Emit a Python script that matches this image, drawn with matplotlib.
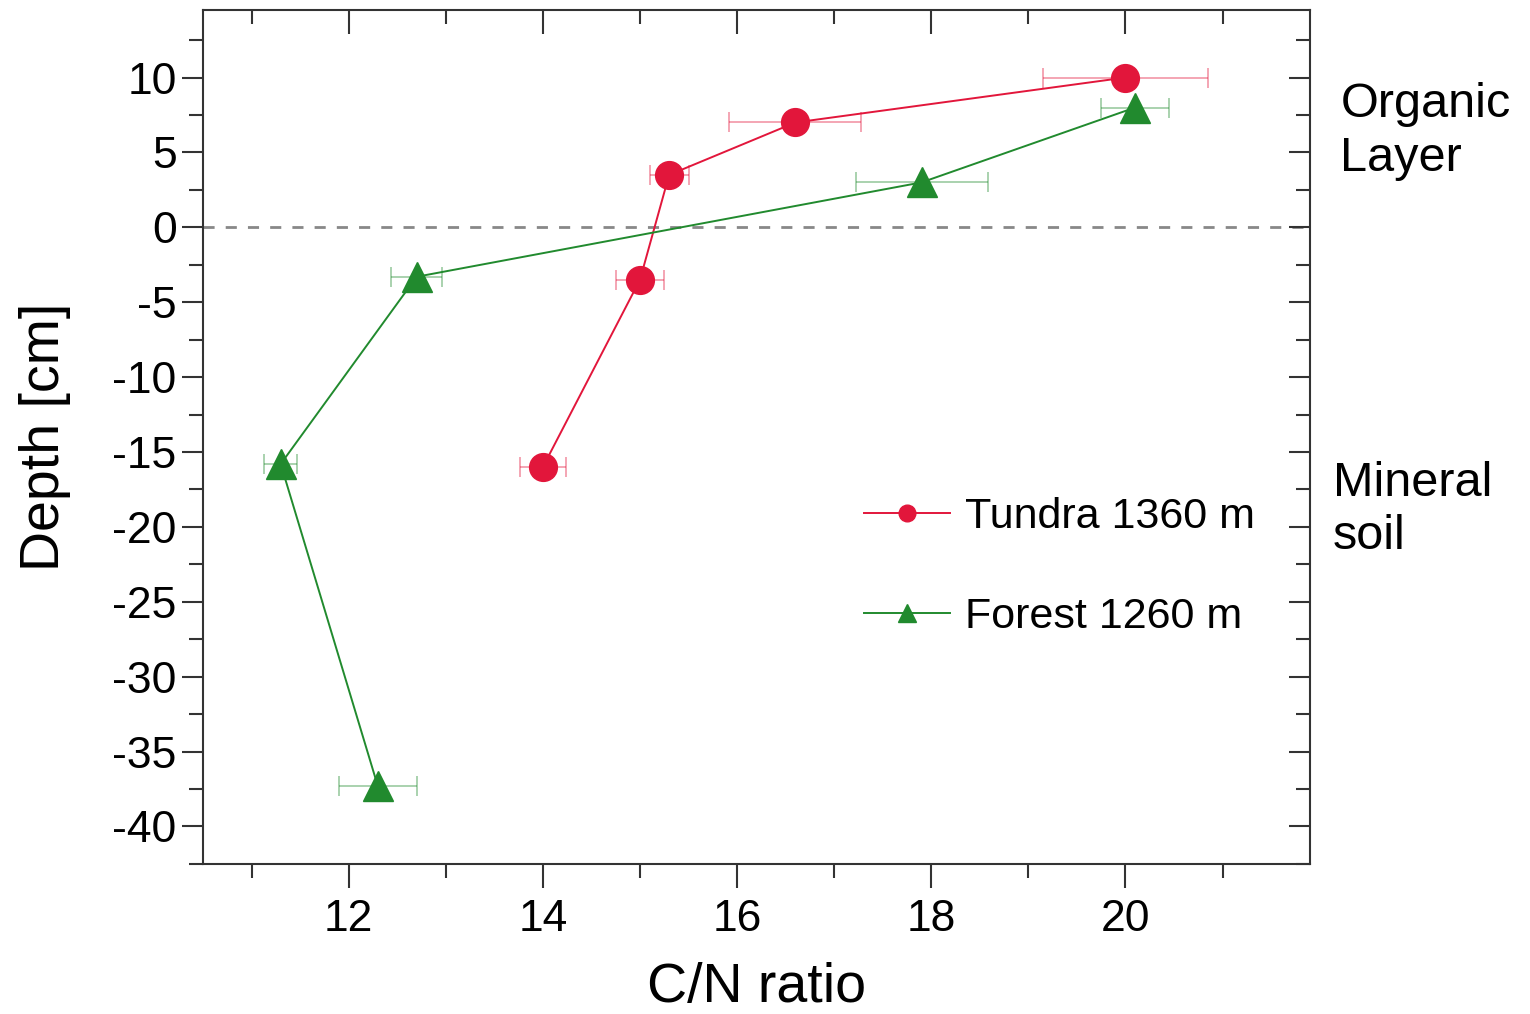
import numpy as np
import matplotlib
matplotlib.use("Agg")
import matplotlib.pyplot as plt
from matplotlib.ticker import MultipleLocator

plt.rcParams['font.family'] = ['Liberation Sans', 'DejaVu Sans']
plt.rcParams['axes.unicode_minus'] = False

# Tundra 1360 m
tundra_cn = [20.0, 16.6, 15.3, 15.0, 14.0]
tundra_depth = [10.0, 7.0, 3.5, -3.5, -16.0]
tundra_err = [0.85, 0.68, 0.2, 0.25, 0.24]

# Forest 1260 m
forest_cn = [20.1, 17.9, 12.7, 11.3, 12.3]
forest_depth = [8.0, 3.0, -3.3, -15.8, -37.3]
forest_err = [0.35, 0.68, 0.26, 0.17, 0.4]

RED = '#E2163B'
GREEN = '#218A2E'

fig = plt.figure(figsize=(15.3, 10.14), dpi=100)
ax = fig.add_axes([0.1327, 0.148, 0.7235, 0.842])

ax.axhline(0, color='#888888', ls=(0, (4, 4)), lw=2, zorder=1)

for x, y, e, c, m, ms, lab in [
    (tundra_cn, tundra_depth, tundra_err, RED, 'o', 20, 'Tundra 1360 m'),
    (forest_cn, forest_depth, forest_err, GREEN, '^', 22, 'Forest 1260 m'),
]:
    ax.errorbar(x, y, xerr=e, fmt='none', ecolor=c, elinewidth=1.2,
                capsize=7, capthick=1.2, alpha=0.45, zorder=2)
    ax.plot(x, y, color=c, lw=1.4, marker=m, ms=ms, mec=c, mfc=c,
            label=lab, zorder=3)

ax.set_xlim(10.5, 21.9)
ax.set_ylim(-42.5, 14.5)
ax.xaxis.set_major_locator(MultipleLocator(2))
ax.xaxis.set_minor_locator(MultipleLocator(1))
ax.yaxis.set_major_locator(MultipleLocator(5))
ax.yaxis.set_minor_locator(MultipleLocator(2.5))

ax.tick_params(which='both', top=True, right=True, labelsize=32, color='#333333', width=1.5)
ax.tick_params(axis='x', which='major', length=17, pad=8)
ax.tick_params(axis='x', which='minor', length=10)
ax.tick_params(axis='y', which='major', length=15, pad=4)
ax.tick_params(axis='y', which='minor', length=10)
ax.tick_params(which='both', direction='out', bottom=True, left=True)
# top and right ticks point inward
for t in ax.xaxis.get_major_ticks() + ax.xaxis.get_minor_ticks():
    t.tick2line.set_marker(3)
for t in ax.yaxis.get_major_ticks() + ax.yaxis.get_minor_ticks():
    t.tick2line.set_marker(0)
for s in ax.spines.values():
    s.set_linewidth(1.5)
    s.set_color('#333333')

ax.set_xlabel('C/N ratio', fontsize=40, labelpad=16)
ax.set_ylabel('Depth [cm]', fontsize=40, labelpad=30)

leg = ax.legend(loc='upper left', bbox_to_anchor=(0.562, 0.475), frameon=False,
                fontsize=31, markerscale=0.6, handlelength=2.0,
                labelspacing=1.4, handletextpad=0.35)

fig.text(0.876, 0.870, 'Organic\nLayer', fontsize=35, va='center', ha='left',
         linespacing=1.25)
fig.text(0.871, 0.497, 'Mineral\nsoil', fontsize=35, va='center', ha='left',
         linespacing=1.25)

fig.savefig('out.png', dpi=100)
